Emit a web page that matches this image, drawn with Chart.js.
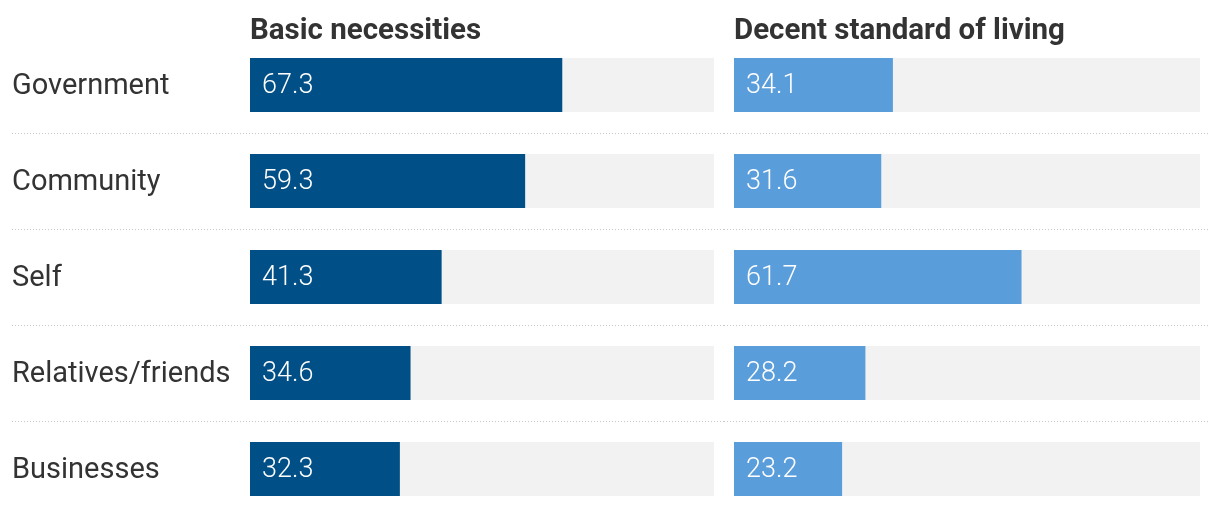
<!DOCTYPE html>
<html>
<head>
<meta charset="utf-8">
<script src="https://cdn.jsdelivr.net/npm/chart.js@4.4.1/dist/chart.umd.min.js"></script>
<style>
  html, body { margin: 0; padding: 0; background: #ffffff; overflow: hidden; }
  #wrap { position: relative; width: 1220px; height: 508px; overflow: hidden; }
  canvas { position: absolute; top: 0; }
</style>
</head>
<body>
<div id="wrap">
  <canvas id="c1" width="724" height="540" style="left:0px"></canvas>
  <canvas id="c2" width="496" height="540" style="left:724px"></canvas>
</div>
<script>
// ---- data ----
const categories = ['Government', 'Community', 'Self', 'Relatives/friends', 'Businesses'];
const basicNecessities = [67.3, 59.3, 41.3, 34.6, 32.3];
const decentLiving = [34.1, 31.6, 61.7, 28.2, 23.2];
const panelTitles = ['Basic necessities', 'Decent standard of living'];
const scaleMax = 100;

const FONT = "Roboto, 'Noto Sans', sans-serif";

// gray track behind each bar
const trackPlugin = {
  id: 'track',
  beforeDatasetsDraw(chart) {
    const ctx = chart.ctx, area = chart.chartArea;
    const meta = chart.getDatasetMeta(0);
    ctx.save();
    ctx.fillStyle = '#f2f2f2';
    meta.data.forEach(el => {
      ctx.fillRect(area.left, el.y - el.height / 2, area.right - area.left, el.height);
    });
    ctx.restore();
  }
};

// dotted separators between rows
const separatorPlugin = {
  id: 'separators',
  beforeDatasetsDraw(chart, args, opts) {
    const ctx = chart.ctx, ys = chart.scales.y;
    ctx.save();
    ctx.strokeStyle = '#c8c8c8';
    ctx.lineWidth = 1;
    ctx.setLineDash([1, 2]);
    for (let i = 0; i < categories.length - 1; i++) {
      const y = Math.round((ys.getPixelForValue(i) + ys.getPixelForValue(i + 1)) / 2) + 0.5;
      ctx.beginPath();
      ctx.moveTo(opts.x0, y);
      ctx.lineTo(opts.x1, y);
      ctx.stroke();
    }
    ctx.restore();
  }
};

// value labels inside bars
const valueLabelPlugin = {
  id: 'valueLabels',
  afterDatasetsDraw(chart) {
    const ctx = chart.ctx;
    const meta = chart.getDatasetMeta(0);
    const data = chart.data.datasets[0].data;
    ctx.save();
    ctx.fillStyle = '#ffffff';
    ctx.font = "300 27px " + FONT;
    ctx.textAlign = 'left';
    ctx.textBaseline = 'middle';
    meta.data.forEach((el, i) => {
      ctx.fillText(data[i].toFixed(1), el.base + 12, el.y + 1);
    });
    ctx.restore();
  }
};

function makeChart(id, values, color, title, showLabels, padding, sep) {
  const yScale = {
    display: showLabels,
    grid: { display: false },
    border: { display: false },
    ticks: {
      crossAlign: 'far',
      labelOffset: 2,
      color: '#333333',
      font: { family: FONT, size: 29, weight: 400 }
    }
  };
  if (showLabels) yScale.afterFit = scale => { scale.width = 238; };
  return new Chart(document.getElementById(id), {
    type: 'bar',
    data: {
      labels: categories,
      datasets: [{
        data: values,
        backgroundColor: color,
        borderWidth: 0,
        barPercentage: 54 / 96,
        categoryPercentage: 1
      }]
    },
    options: {
      indexAxis: 'y',
      responsive: false,
      maintainAspectRatio: false,
      animation: false,
      devicePixelRatio: 1,
      layout: { padding: padding },
      scales: {
        x: { display: false, min: 0, max: scaleMax },
        y: yScale
      },
      plugins: {
        legend: { display: false },
        tooltip: { enabled: false },
        title: {
          display: true,
          text: title,
          align: 'start',
          fullSize: false,
          color: '#333333',
          padding: 0,
          font: { family: FONT, size: 29.5, weight: 700, lineHeight: 0.37 }
        },
        separators: sep
      }
    },
    plugins: [trackPlugin, separatorPlugin, valueLabelPlugin]
  });
}

makeChart('c1', basicNecessities, '#004f86', panelTitles[0], true,
  { left: 12, right: 10, top: 26, bottom: 23 }, { x0: 12, x1: 724 });
makeChart('c2', decentLiving, '#5a9ddb', panelTitles[1], false,
  { left: 10, right: 20, top: 26, bottom: 23 }, { x0: 0, x1: 484 });
</script>
</body>
</html>
